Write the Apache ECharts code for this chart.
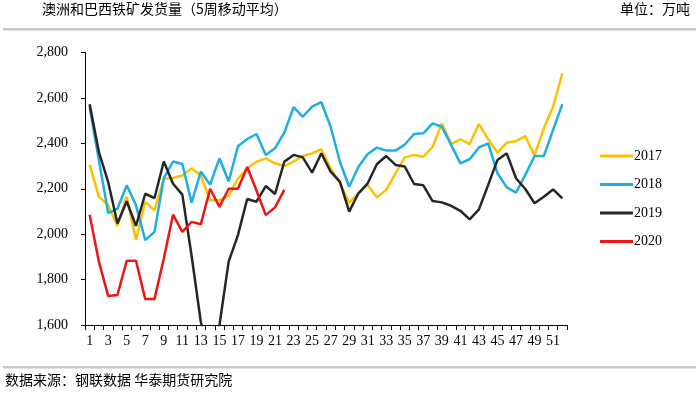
<!DOCTYPE html>
<html>
<head>
<meta charset="utf-8">
<script src="https://cdn.jsdelivr.net/npm/echarts@6/dist/echarts.min.js"></script>
<style>
html,body{margin:0;padding:0;background:#fff;}
#c{width:699px;height:393px;}
</style>
</head>
<body>
<div id="c"></div>
<script>
var weeks = [];
for (var i = 1; i <= 52; i++) weeks.push(String(i));

var seriesNames = ['2017', '2018', '2019', '2020'];

var y2017 = [2305,2165,2127,2036,2165,1974,2142,2105,2244,2247,2258,2290,2258,2149,2149,2171,2244,2290,
  2319,2334,2312,2300,2319,2344,2356,2374,2290,2224,2139,2180,2217,2162,2195,2268,2338,
  2349,2341,2385,2488,2397,2418,2397,2485,2418,2359,2403,2410,2432,2346,2466,2561,2708];
var y2018 = [2560,2325,2093,2112,2215,2127,1974,2010,2247,2320,2309,2139,2276,2218,2334,2232,2387,2419,
  2441,2349,2378,2447,2559,2517,2562,2581,2473,2319,2209,2297,2353,2381,2368,2368,2395,
  2441,2444,2488,2473,2393,2312,2330,2382,2400,2268,2206,2183,2261,2344,2344,2459,2573];
var y2019 = [2572,2361,2230,2047,2145,2036,2178,2159,2320,2222,2174,1905,1612,1480,1598,1879,1996,2155,
  2143,2212,2177,2319,2349,2338,2271,2356,2275,2231,2099,2180,2224,2309,2344,2305,2298,
  2221,2215,2146,2140,2125,2103,2065,2109,2217,2327,2356,2246,2199,2136,2165,2197,2158];
var y2020 = [2086,1879,1728,1732,1883,1883,1714,1714,1893,2086,2010,2054,2044,2200,2120,2200,2200,2296,
  2192,2084,2118,2195];

var yTicks = [1600, 1800, 2000, 2200, 2400, 2600, 2800];
var colors = ['#FFC000', '#1DAEE4', '#262626', '#F01414'];

var chart = echarts.init(document.getElementById('c'), null, {renderer: 'canvas'});
var serif = '"Liberation Serif", "Times New Roman", serif';
var cjk = '"Noto Sans CJK SC", sans-serif';

function mk(name, data, idx) {
  return {
    name: name, type: 'line', data: data, symbol: 'none', showSymbol: false,
    lineStyle: {width: 2.5, color: colors[idx]}, itemStyle: {color: colors[idx]},
    z: 2 + idx, clip: true, animation: false
  };
}

chart.setOption({
  animation: false,
  grid: {left: 85, right: 132, top: 52.5, bottom: 68, containLabel: false},
  graphic: [
    {type: 'text', left: 42, top: 2, style: {text: '澳洲和巴西铁矿发货量（5周移动平均）', font: '14px ' + cjk, fill: '#000'}},
    {type: 'text', right: 9, top: 2, style: {text: '单位：万吨', font: '14px ' + cjk, fill: '#000'}},
    {type: 'rect', shape: {x: 3, y: 28, width: 693, height: 2.5}, style: {fill: '#C8C8C8'}},
    {type: 'rect', shape: {x: 3, y: 366, width: 693, height: 2.5}, style: {fill: '#C8C8C8'}},
    {type: 'text', left: 5, top: 373, style: {text: '数据来源：钢联数据 华泰期货研究院', font: '14px ' + cjk, fill: '#000'}}
  ],
  legend: {
    orient: 'vertical', left: 595, top: 144, icon: 'rect', itemWidth: 33, itemHeight: 3,
    itemGap: 14.5, data: seriesNames,
    textStyle: {fontFamily: serif, fontSize: 14, color: '#000', padding: [0, 0, 0, -4]}
  },
  xAxis: {
    type: 'category', data: weeks, boundaryGap: true,
    axisLine: {lineStyle: {color: '#000', width: 1}},
    axisTick: {show: true, interval: 0, length: 5, lineStyle: {color: '#000'}},
    axisLabel: {interval: 1, fontFamily: serif, fontSize: 14, color: '#000', margin: 9}
  },
  yAxis: {
    type: 'value', min: yTicks[0], max: yTicks[yTicks.length - 1], interval: 200,
    axisLine: {show: true, lineStyle: {color: '#000', width: 1}},
    axisTick: {show: true, length: 4, lineStyle: {color: '#000'}},
    splitLine: {show: false},
    axisLabel: {fontFamily: serif, fontSize: 14, color: '#000', margin: 17,
      formatter: function (v) { return v.toLocaleString('en-US'); }}
  },
  series: [mk('2017', y2017, 0), mk('2018', y2018, 1), mk('2019', y2019, 2), mk('2020', y2020, 3)]
});
</script>
</body>
</html>
